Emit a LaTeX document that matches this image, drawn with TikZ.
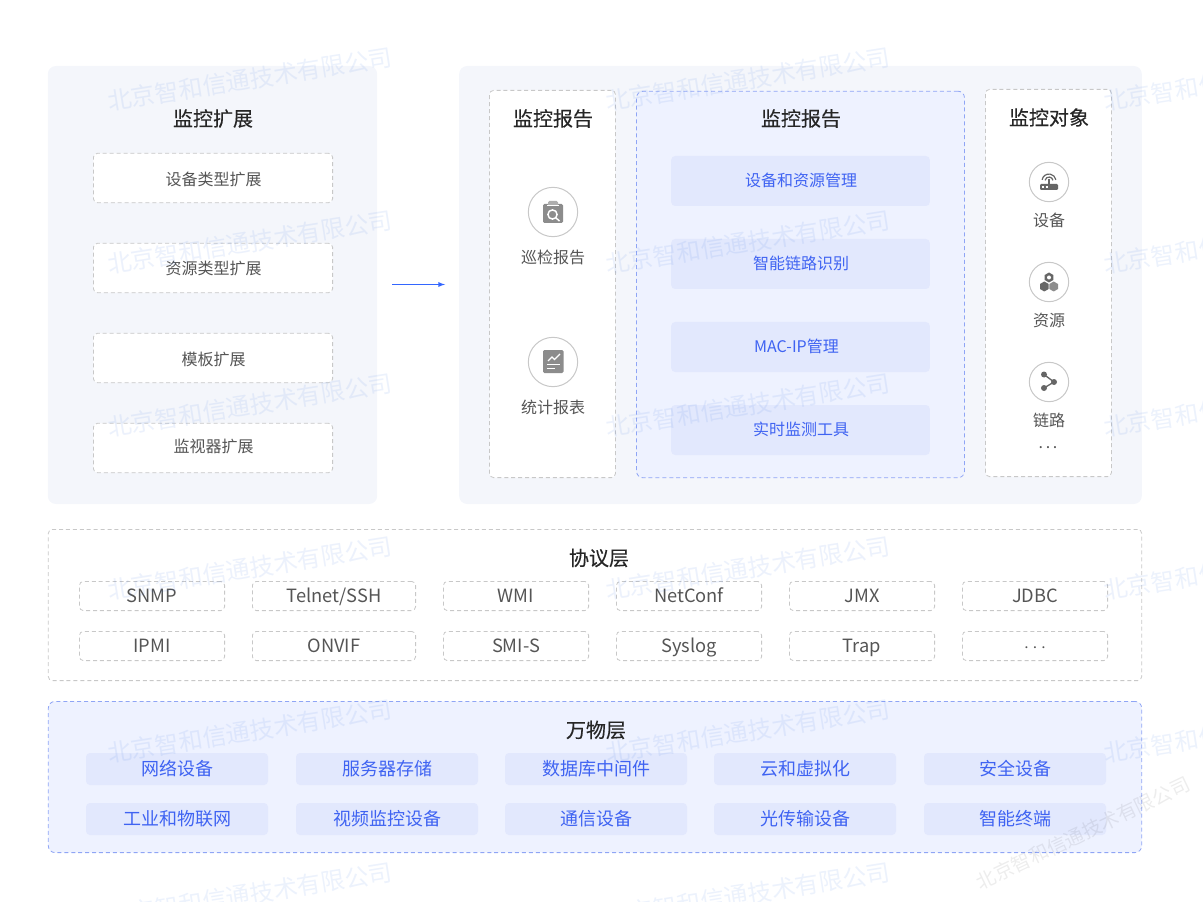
\documentclass[tikz,border=0pt]{standalone}
\usepackage{fontspec}
\usepackage{tikz}
\setmainfont{Noto Sans CJK SC}
\newfontfamily\titlefont[FakeBold=0.25]{Noto Sans CJK SC}
\definecolor{panelgray}{HTML}{F4F6FB}
\definecolor{panelblue}{HTML}{EEF2FF}
\definecolor{itemblue}{HTML}{E2E8FD}
\definecolor{textblue}{HTML}{3F63F2}
\definecolor{dashblue}{HTML}{8FA5F5}
\definecolor{dashgray}{HTML}{C8C8C8}
\definecolor{textgray}{HTML}{555555}
\definecolor{icongray}{HTML}{8C8C8C}
\definecolor{icondark}{HTML}{666666}
\definecolor{markblue}{HTML}{2F6BE0}
\definecolor{arrowblue}{HTML}{3366FF}

\begin{document}
\begin{tikzpicture}[x=0.75pt,y=0.75pt,
  every node/.style={inner sep=0pt,outer sep=0pt},
  panelbox/.style={fill=panelgray,rounded corners=6pt},
  dashbox/.style={draw=dashgray,fill=white,dash pattern=on 3pt off 2.2pt,line width=0.6pt,rounded corners=3pt,text=textgray},
  bluebox/.style={draw=dashblue,fill=panelblue,dash pattern=on 3pt off 2.2pt,line width=0.6pt,rounded corners=5pt},
  blueitem/.style={fill=itemblue,rounded corners=3pt,text=textblue},
  headtext/.style={font=\titlefont\fontsize{15}{18}\selectfont,text=black!85},
  smalltext/.style={font=\fontsize{12}{15}\selectfont},
  protobox/.style={dashbox,minimum height=21.9pt,font=\fontsize{13.7}{16}\selectfont,text height=12pt,text depth=2.8pt},
  thingbox/.style={blueitem,minimum width=136.5pt,minimum height=24pt,font=\fontsize{13.5}{16}\selectfont},
  ringnode/.style={circle,draw=dashgray,fill=white,line width=0.75pt},
  watermark/.style={font=\fontsize{18}{20}\selectfont,text=markblue,text opacity=0.09,rotate=9},
]
\useasboundingbox (0,0) rectangle (1203,-902);
% top panels
\node [panelbox,minimum width=247pt,minimum height=328.5pt] (extpanel) at (212.5,-285) {};
\node [panelbox,minimum width=512pt,minimum height=328.5pt] (monpanel) at (800.5,-285) {};
\node [headtext] (exttitle) at (213,-118.5) {监控扩展};
\node [dashbox,minimum width=179.4pt,minimum height=37pt] (ext1) at (213,-178) {};
\node [dashbox,minimum width=179.4pt,minimum height=37pt] (ext2) at (213,-268) {};
\node [dashbox,minimum width=179.4pt,minimum height=37pt] (ext3) at (213,-358) {};
\node [dashbox,minimum width=179.4pt,minimum height=37pt] (ext4) at (213,-448) {};
\node [smalltext,text=textgray] (ext1text) at (213.5,-179) {设备类型扩展};
\node [smalltext,text=textgray] (ext2text) at (213.5,-268) {资源类型扩展};
\node [smalltext,text=textgray] (ext3text) at (213.5,-359) {模板扩展};
\node [smalltext,text=textgray] (ext4text) at (213.5,-446) {监视器扩展};
\coordinate (arrowfrom) at (392,-284.5);
\coordinate (arrowto) at (445,-284.5);
\draw [arrowblue,line width=0.75pt,-latex] (arrowfrom) -- (arrowto);
% report column
\node [dashbox,minimum width=94.4pt,minimum height=290.4pt] (reportbox) at (552.5,-284) {};
\node [headtext] (reporttitle) at (553,-118.5) {监控报告};
\node [ringnode,minimum size=37pt] (patrolring) at (553,-212) {};
\fill [icongray,rounded corners=1pt] (543,-204) rectangle (563,-223);
\fill [icongray!70,rounded corners=1pt] (548,-201) rectangle (558,-206);
\draw [white,line width=0.6pt] (547,-205.5) -- (559,-205.5);
\draw [white,line width=1.1pt] (552.5,-214.5) circle (4.6);
\draw [white,line width=1.1pt] (556,-218) -- (559.5,-221);
\node [smalltext,text=textgray] (patroltext) at (553,-257) {巡检报告};
\node [ringnode,minimum size=37pt] (statring) at (553,-362) {};
\fill [icongray,rounded corners=1pt] (543,-350) rectangle (563.5,-373);
\draw [white,line width=1pt] (548,-361) -- (552,-357) -- (554.5,-359.5) -- (560,-354);
\draw [white,line width=1pt] (546.5,-364.5) -- (560,-364.5);
\draw [white,line width=1pt] (546.5,-368.5) -- (555,-368.5);
\node [smalltext,text=textgray] (stattext) at (553,-407) {统计报表};
% middle column
\node [bluebox,minimum width=246pt,minimum height=290pt] (midbox) at (800.5,-284.5) {};
\node [headtext] (midtitle) at (801,-118.5) {监控报告};
\node [blueitem,minimum width=194pt,minimum height=37.5pt] (mid1) at (800.5,-181) {};
\node [blueitem,minimum width=194pt,minimum height=37.5pt] (mid2) at (800.5,-264) {};
\node [blueitem,minimum width=194pt,minimum height=37.5pt] (mid3) at (800.5,-347) {};
\node [blueitem,minimum width=194pt,minimum height=37.5pt] (mid4) at (800.5,-430) {};
\node [smalltext,text=textblue] (mid1text) at (801,-180) {设备和资源管理};
\node [smalltext,text=textblue] (mid2text) at (801,-263) {智能链路识别};
\node [smalltext,text=textblue] (mid3text) at (796.5,-346) {MAC-IP管理};
\node [smalltext,text=textblue] (mid4text) at (801,-429) {实时监测工具};
% object column
\node [dashbox,minimum width=94.4pt,minimum height=290.4pt] (objbox) at (1048.5,-283) {};
\node [headtext] (objtitle) at (1049,-117.5) {监控对象};
\node [ringnode,minimum size=29.5pt] (devring) at (1049,-182) {};
\fill [icondark,rounded corners=0.8pt] (1040,-184) rectangle (1058,-190);
\draw [white,line width=0.8pt] (1042,-187) -- (1044,-187);
\draw [white,line width=0.8pt] (1045.5,-187) -- (1047.5,-187);
\draw [icondark,line width=1pt] (1049,-179) -- (1049,-184);
\draw [icondark,line width=0.9pt] (1045.06,-180.3) arc (170:10:4);
\draw [icondark,line width=0.9pt] (1042.1,-179.8) arc (170:10:7);
\node [smalltext,text=textgray] (devtext) at (1049,-220) {设备};
\node [ringnode,minimum size=29.5pt] (resring) at (1049,-282) {};
\fill [icondark] (1049.0,-272.5) -- (1053.3,-275.0) -- (1053.3,-280.0) -- (1049.0,-282.5) -- (1044.7,-280.0) -- (1044.7,-275.0) -- cycle;
\fill [white] (1049,-277.5) circle (2);
\fill [icondark] (1044.3,-281.5) -- (1048.6,-284.0) -- (1048.6,-289.0) -- (1044.3,-291.5) -- (1040.0,-289.0) -- (1040.0,-284.0) -- cycle;
\fill [icongray] (1053.7,-281.5) -- (1058.0,-284.0) -- (1058.0,-289.0) -- (1053.7,-291.5) -- (1049.4,-289.0) -- (1049.4,-284.0) -- cycle;
\node [smalltext,text=textgray] (restext) at (1049,-320) {资源};
\node [ringnode,minimum size=29.5pt] (linkring) at (1049,-382) {};
\draw [icondark,line width=1pt] (1044,-374.5) -- (1054,-382) -- (1044,-388);
\fill [icondark] (1044,-374.5) circle (3);
\fill [icondark] (1054,-382) circle (3);
\fill [icondark] (1044,-388) circle (3);
\node [smalltext,text=textgray] (linktext) at (1049,-420) {链路};
\node [smalltext,text=textgray] (moredots) at (1048,-447.5) {.\,.\,.};
% protocol layer
\node [dashbox,minimum width=820pt,minimum height=113.4pt] (protobg) at (595,-605) {};
\node [headtext] (prototitle) at (599,-558) {协议层};
\node [protobox,minimum width=108.9pt] (snmp) at (152,-596) {SNMP};
\node [protobox,minimum width=122.4pt] (telnet) at (334,-596) {Telnet/SSH};
\node [protobox,minimum width=108.9pt] (wmi) at (516,-596) {WMI};
\node [protobox,minimum width=108.9pt] (netconf) at (689,-596) {NetConf};
\node [protobox,minimum width=108.9pt] (jmx) at (862,-596) {JMX};
\node [protobox,minimum width=108.9pt] (jdbc) at (1035,-596) {JDBC};
\node [protobox,minimum width=108.9pt] (ipmi) at (152,-646) {IPMI};
\node [protobox,minimum width=122.4pt] (onvif) at (334,-646) {ONVIF};
\node [protobox,minimum width=108.9pt] (smis) at (516,-646) {SMI-S};
\node [protobox,minimum width=108.9pt] (syslog) at (689,-646) {Syslog};
\node [protobox,minimum width=108.9pt] (trap) at (862,-646) {Trap};
\node [protobox,minimum width=108.9pt] (protomore) at (1035,-646) {$\cdots$};
% things layer
\node [bluebox,minimum width=820pt,minimum height=113.4pt] (thingbg) at (595,-777) {};
\node [headtext] (thingtitle) at (596,-730) {万物层};
\node [thingbox] (net) at (177,-769) {网络设备};
\node [thingbox] (server) at (387,-769) {服务器存储};
\node [thingbox] (dbmid) at (596,-769) {数据库中间件};
\node [thingbox] (cloud) at (805,-769) {云和虚拟化};
\node [thingbox] (secure) at (1015,-769) {安全设备};
\node [thingbox] (iot) at (177,-819) {工业和物联网};
\node [thingbox] (video) at (387,-819) {视频监控设备};
\node [thingbox] (comm) at (596,-819) {通信设备};
\node [thingbox] (optic) at (805,-819) {光传输设备};
\node [thingbox] (smart) at (1015,-819) {智能终端};
% watermarks
\node [watermark] (markaa) at (250,-79) {北京智和信通技术有限公司};
\node [watermark] (markab) at (748,-79) {北京智和信通技术有限公司};
\node [watermark] (markac) at (1246,-79) {北京智和信通技术有限公司};
\node [watermark] (markba) at (250,-242) {北京智和信通技术有限公司};
\node [watermark] (markbb) at (748,-242) {北京智和信通技术有限公司};
\node [watermark] (markbc) at (1246,-242) {北京智和信通技术有限公司};
\node [watermark] (markca) at (250,-405) {北京智和信通技术有限公司};
\node [watermark] (markcb) at (748,-405) {北京智和信通技术有限公司};
\node [watermark] (markcc) at (1246,-405) {北京智和信通技术有限公司};
\node [watermark] (markda) at (250,-568) {北京智和信通技术有限公司};
\node [watermark] (markdb) at (748,-568) {北京智和信通技术有限公司};
\node [watermark] (markdc) at (1246,-568) {北京智和信通技术有限公司};
\node [watermark] (markea) at (250,-731) {北京智和信通技术有限公司};
\node [watermark] (markeb) at (748,-731) {北京智和信通技术有限公司};
\node [watermark] (markec) at (1246,-731) {北京智和信通技术有限公司};
\node [watermark] (markfa) at (250,-894) {北京智和信通技术有限公司};
\node [watermark] (markfb) at (748,-894) {北京智和信通技术有限公司};
\node [font=\fontsize{14.6}{16}\selectfont,text=black,text opacity=0.07,rotate=25.5] (markgrey) at (1083,-833) {北京智和信通技术有限公司};
\end{tikzpicture}
\end{document}
